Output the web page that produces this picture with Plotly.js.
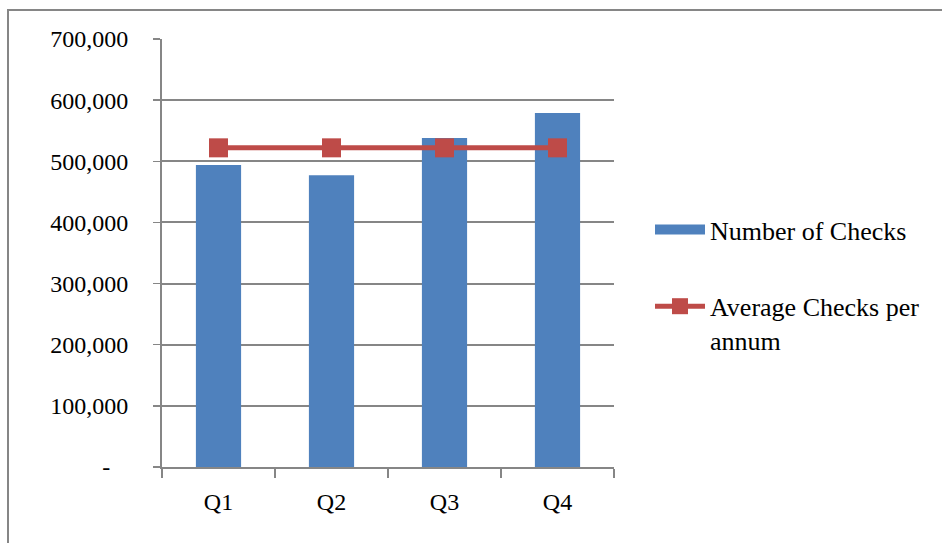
<!DOCTYPE html>
<html>
<head>
<meta charset="utf-8">
<script src="https://cdn.plot.ly/plotly-3.0.1.min.js"></script>
<style>
  html, body { margin: 0; padding: 0; background: #fff; }
  #chart { width: 942px; height: 543px; }
</style>
</head>
<body>
<div id="chart"></div>
<script>
// Quarterly check volumes and the yearly average
const quarters = ["Q1", "Q2", "Q3", "Q4"];
const numberOfChecks = [494000, 477000, 538000, 579000];
const averageChecks = [522000, 522000, 522000, 522000];
const yTickVals = [0, 100000, 200000, 300000, 400000, 500000, 600000, 700000];
const yTickText = ["-\u00a0\u00a0\u00a0", "100,000", "200,000", "300,000", "400,000", "500,000", "600,000", "700,000"];

const W = 942, H = 543;
const M = { l: 162, r: 328, t: 39, b: 76 };
const pw = W - M.l - M.r, ph = H - M.t - M.b;
const px = v => (v - M.l) / pw;
const py = v => (H - M.b - v) / ph;

const serif = "Liberation Serif, Times New Roman, serif";
const gray = "#868686";
const blue = "#4F81BD";
const red = "#BE4B48";

const traces = [
  {
    type: "bar",
    name: "Number of Checks",
    x: quarters,
    y: numberOfChecks,
    marker: { color: blue },
    showlegend: false,
    legendgroup: "a"
  },
  // wide swatch for the bar series' legend entry
  {
    type: "scatter",
    mode: "lines",
    name: "Number of Checks",
    x: [null],
    y: [null],
    line: { color: blue, width: 13 },
    legendgroup: "a"
  },
  {
    type: "scatter",
    mode: "lines+markers",
    name: "Average Checks per<br>annum",
    x: quarters,
    y: averageChecks,
    line: { color: red, width: 5 },
    marker: { symbol: "square", size: 19, color: red },
    legendgroup: "b"
  }
];

const layout = {
  width: W, height: H,
  margin: M,
  paper_bgcolor: "#fff",
  plot_bgcolor: "#fff",
  bargap: 0.6,
  showlegend: true,
  font: { family: serif, size: 24, color: "#000" },
  xaxis: {
    type: "category",
    showgrid: false,
    showline: true, linecolor: gray, linewidth: 2,
    ticks: "outside", tickson: "boundaries", ticklen: 9, tickcolor: gray, tickwidth: 1.5,
    ticklabelstandoff: 12,
    tickfont: { family: serif, size: 24, color: "#000" },
    zeroline: false,
    fixedrange: true
  },
  yaxis: {
    range: [0, 700000],
    tickvals: yTickVals,
    ticktext: yTickText,
    showgrid: true, gridcolor: gray, gridwidth: 2,
    showline: true, linecolor: gray, linewidth: 2,
    ticks: "outside", ticklen: 7, tickcolor: gray, tickwidth: 1.5,
    ticklabelstandoff: 20,
    tickfont: { family: serif, size: 24, color: "#000" },
    zeroline: false,
    fixedrange: true
  },
  legend: {
    x: px(650), xanchor: "left",
    y: py(206), yanchor: "top",
    font: { family: serif, size: 26, color: "#000" },
    traceorder: "grouped",
    tracegroupgap: 40,
    itemwidth: 50,
    valign: "top",
    bgcolor: "rgba(0,0,0,0)"
  },
  shapes: [
    {
      type: "rect", xref: "paper", yref: "paper", layer: "below",
      x0: px(8), x1: px(960), y0: py(560), y1: py(10),
      line: { color: gray, width: 2 }, fillcolor: "rgba(0,0,0,0)"
    }
  ]
};

Plotly.newPlot("chart", traces, layout, { staticPlot: true, displayModeBar: false });
</script>
</body>
</html>
